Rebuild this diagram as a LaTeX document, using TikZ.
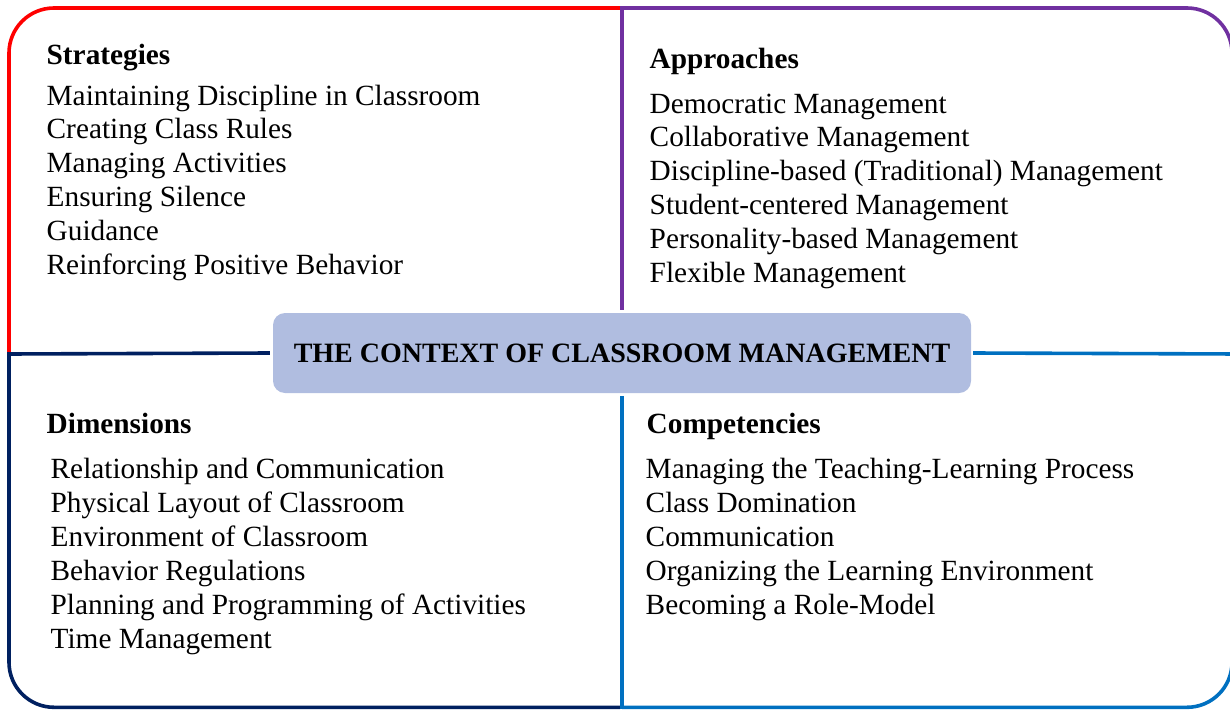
\documentclass[tikz,border=0pt]{standalone}
\usepackage{fontspec}
\setmainfont{Liberation Serif}
\usetikzlibrary{calc}

\definecolor{frameRed}{HTML}{FF0000}
\definecolor{framePurple}{HTML}{7030A0}
\definecolor{frameNavy}{HTML}{002060}
\definecolor{frameBlue}{HTML}{0070C0}
\definecolor{boxFill}{HTML}{B0BDE0}

\tikzset{
  frame/.style={line width=3.6pt},
  head/.style={anchor=base west, inner sep=0pt, font=\fontsize{29.3}{34}\selectfont\bfseries},
  entry/.style={anchor=base west, inner sep=0pt, font=\fontsize{29.3}{34}\selectfont},
  titlebox/.style={rounded corners=12pt, fill=boxFill, minimum width=698pt,
    minimum height=80pt, inner sep=0pt, font=\fontsize{28}{32}\selectfont\bfseries}
}

\begin{document}
\begin{tikzpicture}[x=1pt,y=-1pt]
  \useasboundingbox (0,0) rectangle (1230,709);
  \clip (0,0) rectangle (1230,709);

  % central title
  \node[titlebox] (ctx) at (622,353) {THE CONTEXT OF CLASSROOM MANAGEMENT};

  % quadrant frames
  \draw[frame, frameRed, rounded corners=45pt] (9,352) -- (9,8) -- (622,8);
  \draw[frame, framePurple, rounded corners=45pt] (622,8) -- (1232,8) -- (1232,360);
  \draw[frame, framePurple] ($(ctx.north)+(0,-3)$) -- (622,6.2);
  \draw[frame, frameNavy] ($(ctx.west)+(-3,0)$) -- (7.2,354);
  \draw[frame, frameNavy, rounded corners=45pt] (9,352.2) -- (9,707.3) -- (620,707.3);
  \draw[frame, frameBlue] ($(ctx.east)+(2,0)$) -- (1240,354);
  \draw[frame, frameBlue] ($(ctx.south)+(0,3)$) -- (622,709);
  \draw[frame, frameBlue, rounded corners=45pt] (622,707.3) -- (1232,707.3) -- (1232,354);

  % Strategies
  \node[head] (sh) at (46.5,64) {Strategies};
  \foreach \t [count=\i] in {Maintaining Discipline in Classroom, Creating Class Rules,
      Managing Activities, Ensuring Silence, Guidance, Reinforcing Positive Behavior}
    \node[entry] (s\i) at (46.5,{105+33.8*(\i-1)}) {\t};

  % Approaches
  \node[head] (ah) at (649.5,68) {Approaches};
  \foreach \t [count=\i] in {Democratic Management, Collaborative Management,
      Discipline-based (Traditional) Management, Student-centered Management,
      Personality-based Management, Flexible Management}
    \node[entry] (a\i) at (649.5,{113+33.8*(\i-1)}) {\t};

  % Dimensions
  \node[head] (dh) at (46.5,433) {Dimensions};
  \foreach \t [count=\i] in {Relationship and Communication, Physical Layout of Classroom,
      Environment of Classroom, Behavior Regulations,
      Planning and Programming of Activities, Time Management}
    \node[entry] (d\i) at (50.5,{478+34*(\i-1)}) {\t};

  % Competencies
  \node[head] (ch) at (646.5,433) {Competencies};
  \foreach \t [count=\i] in {Managing the Teaching-Learning Process, Class Domination,
      Communication, Organizing the Learning Environment, Becoming a Role-Model}
    \node[entry] (c\i) at (645.5,{478+34*(\i-1)}) {\t};
\end{tikzpicture}
\end{document}
